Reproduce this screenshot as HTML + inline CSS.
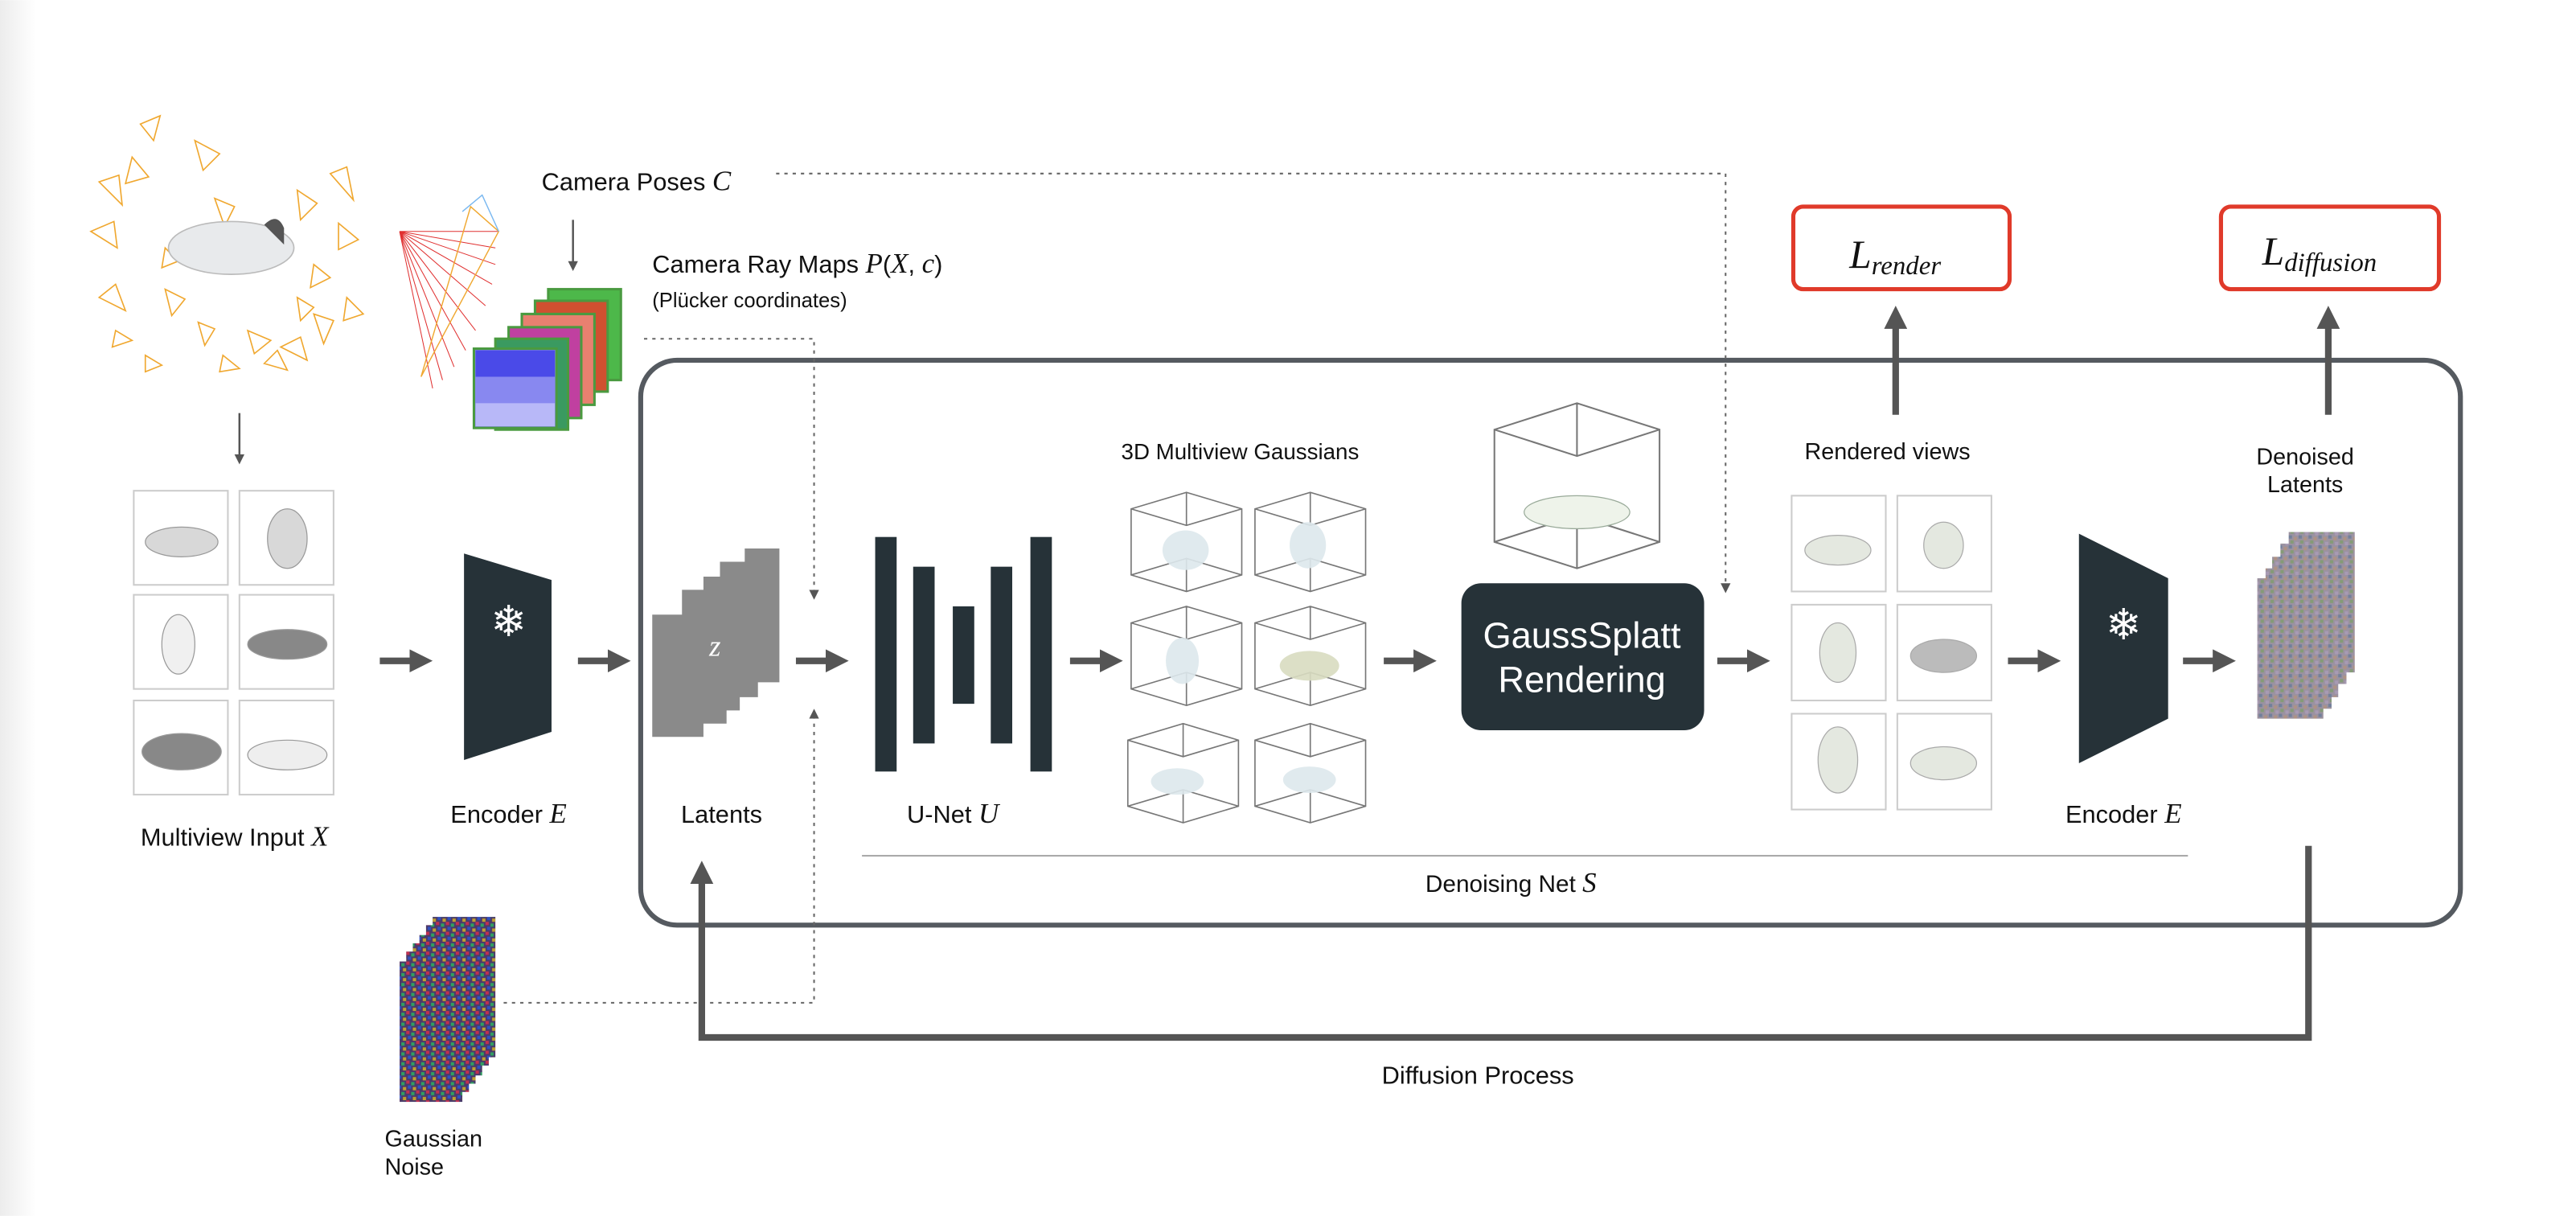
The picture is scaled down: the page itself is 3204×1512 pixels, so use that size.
<!DOCTYPE html>
<html><head><meta charset="utf-8"><style>
html,body{margin:0;padding:0;background:#fff;}
svg{display:block;}
text{font-family:"Liberation Sans",sans-serif;fill:#111;}
.m{font-family:"Liberation Serif",serif;font-style:italic;}
</style></head><body>
<svg width="3204" height="1512" viewBox="0 0 1560 736" xmlns="http://www.w3.org/2000/svg">
<defs>
<linearGradient id="lg" x1="0" x2="1"><stop offset="0" stop-color="#ececec"/><stop offset="1" stop-color="#fff"/></linearGradient>
<marker id="sa" markerWidth="6" markerHeight="6" refX="3" refY="3" orient="auto" markerUnits="userSpaceOnUse"><path d="M0,0 L6,3 L0,6 z" fill="#555"/></marker>
<marker id="ta" markerWidth="14" markerHeight="14" refX="7" refY="7" orient="auto" markerUnits="userSpaceOnUse"><path d="M0,0 L14,7 L0,14 z" fill="#555"/></marker>
<pattern id="noise" width="6" height="6" patternUnits="userSpaceOnUse">
<rect width="6" height="6" fill="#8a7f90"/><rect x="0" y="0" width="2" height="2" fill="#5a6a8a"/><rect x="3" y="1" width="2" height="2" fill="#a08070"/><rect x="1" y="3" width="2" height="2" fill="#708a60"/><rect x="4" y="4" width="2" height="2" fill="#9a8aa8"/></pattern>
<pattern id="noise2" width="6" height="6" patternUnits="userSpaceOnUse">
<rect width="6" height="6" fill="#4a3a6a"/><rect x="0" y="0" width="2" height="2" fill="#c03050"/><rect x="3" y="1" width="2" height="2" fill="#30a060"/><rect x="1" y="3" width="2" height="2" fill="#3050c0"/><rect x="4" y="4" width="2" height="2" fill="#c0a030"/></pattern>
<g id="cube" fill="none" stroke="#777" stroke-width="0.8">
<path d="M0,10 L33.5,0 L67,10 L67,50 L33.5,60 L0,50 z M0,10 L33.5,20 L67,10 M33.5,0 L33.5,20 M0,50 L33.5,40 L67,50 M33.5,40 L33.5,60"/>
</g>
</defs>
<rect x="0" y="0" width="22" height="736" fill="url(#lg)"/>

<rect x="388" y="218" width="1102" height="342" rx="22" fill="none" stroke="#555a60" stroke-width="3"/>

<g fill="none" stroke="#f0a830" stroke-width="0.8">
<path d="M85,75 l12,-5 l-4,15z M118,85 l15,8 l-10,10z M60,110 l12,-4 l2,18z M80,95 l10,12 l-14,4z M55,140 l14,-6 l2,16z M130,120 l12,5 l-6,12z M140,145 l10,6 l-8,8z M180,115 l12,8 l-10,10z M200,105 l10,-4 l4,20z M205,135 l12,10 l-12,6z M190,160 l10,8 l-12,6z M60,180 l10,-8 l6,16z M70,200 l10,6 l-12,4z M100,175 l12,6 l-8,10z M120,195 l10,4 l-6,10z M150,200 l14,6 l-10,8z M170,210 l12,-6 l4,14z M190,190 l12,4 l-6,14z M210,180 l10,10 l-12,4z M88,215 l10,6 l-10,4z M135,215 l10,8 l-12,2z M160,220 l8,-8 l6,12z M100,150 l8,8 l-10,4z M180,180 l10,6 l-8,8z"/>
</g>
<ellipse cx="140" cy="150" rx="38" ry="16" fill="#e8eaec" stroke="#bbb" stroke-width="0.8"/>
<path d="M160,136 q8,-8 12,2 l0,10z" fill="#555"/>
<g stroke="#e03030" stroke-width="0.5">
<path d="M242,140 L300,150 M242,140 L300,160 M242,140 L298,172 M242,140 L294,185 M242,140 L288,200 M242,140 L282,212 M242,140 L275,222 M242,140 L268,230 M242,140 L262,235 M242,140 L302,140"/>
</g>
<path d="M255,228 L285,125 L302,140 z" fill="none" stroke="#f0a830" stroke-width="0.7"/>
<path d="M280,128 L292,118 L302,140" fill="none" stroke="#7ab8f0" stroke-width="0.7"/>

<text x="328" y="115" font-size="15">Camera Poses <tspan class="m" font-size="17">C</tspan></text>
<line x1="347" y1="133" x2="347" y2="161" stroke="#555" stroke-width="1.2" marker-end="url(#sa)"/>
<polyline points="470,105 1045,105 1045,356" fill="none" stroke="#666" stroke-width="1" stroke-dasharray="2,3" marker-end="url(#sa)"/>
<text x="395" y="165" font-size="15">Camera Ray Maps <tspan class="m" font-size="17">P</tspan>(<tspan class="m" font-size="17">X</tspan>, <tspan class="m" font-size="17">c</tspan>)</text>
<text x="395" y="186" font-size="12.5" fill="#333">(Plücker coordinates)</text>

<g stroke="#4a9a40" stroke-width="1.5">
<rect x="332" y="175" width="44" height="55" fill="#4db84a"/>
<rect x="324" y="182" width="44" height="55" fill="#d05030"/>
<rect x="316" y="190" width="44" height="55" fill="#e88070"/>
<rect x="308" y="198" width="44" height="55" fill="#c040a0"/>
<rect x="300" y="205" width="44" height="55" fill="#3a9a60"/>
<rect x="287" y="211" width="50" height="48" fill="#8888f0"/>
</g>
<rect x="288" y="212" width="48" height="16" fill="#4a4ae8"/>
<rect x="288" y="244" width="48" height="14" fill="#b8b8f8"/>

<polyline points="390,205 493,205 493,360" fill="none" stroke="#666" stroke-width="1" stroke-dasharray="2,3" marker-end="url(#sa)"/>
<polyline points="305,607 493,607 493,432" fill="none" stroke="#666" stroke-width="1" stroke-dasharray="2,3" marker-end="url(#sa)"/>

<line x1="145" y1="250" x2="145" y2="278" stroke="#555" stroke-width="1.2" marker-end="url(#sa)"/>

<g fill="#fff" stroke="#ccc" stroke-width="1">
<rect x="81" y="297" width="57" height="57"/><rect x="145" y="297" width="57" height="57"/>
<rect x="81" y="360" width="57" height="57"/><rect x="145" y="360" width="57" height="57"/>
<rect x="81" y="424" width="57" height="57"/><rect x="145" y="424" width="57" height="57"/>
</g>
<g fill="#d8d8d8" stroke="#999" stroke-width="0.6">
<ellipse cx="110" cy="328" rx="22" ry="9"/><ellipse cx="174" cy="326" rx="12" ry="18"/>
<ellipse cx="108" cy="390" rx="10" ry="18" fill="#f0f0f0"/><ellipse cx="174" cy="390" rx="24" ry="9" fill="#888"/>
<ellipse cx="110" cy="455" rx="24" ry="11" fill="#888"/><ellipse cx="174" cy="457" rx="24" ry="9" fill="#eee"/>
</g>
<text x="142" y="512" font-size="15" text-anchor="middle">Multiview Input <tspan class="m" font-size="17">X</tspan></text>

<g stroke="#555" stroke-width="4" fill="none">
<line x1="230" y1="400" x2="255" y2="400" marker-end="url(#ta)"/>
<line x1="350" y1="400" x2="375" y2="400" marker-end="url(#ta)"/>
<line x1="482" y1="400" x2="507" y2="400" marker-end="url(#ta)"/>
<line x1="648" y1="400" x2="673" y2="400" marker-end="url(#ta)"/>
<line x1="838" y1="400" x2="863" y2="400" marker-end="url(#ta)"/>
<line x1="1040" y1="400" x2="1065" y2="400" marker-end="url(#ta)"/>
<line x1="1216" y1="400" x2="1241" y2="400" marker-end="url(#ta)"/>
<line x1="1322" y1="400" x2="1347" y2="400" marker-end="url(#ta)"/>
<line x1="1148" y1="251" x2="1148" y2="192" marker-end="url(#ta)"/>
<line x1="1410" y1="251" x2="1410" y2="192" marker-end="url(#ta)"/>
<polyline points="1398,512 1398,628 425,628 425,528" marker-end="url(#ta)"/>
</g>

<path d="M281,335 L334,351 L334,443 L281,460 z" fill="#263238"/>
<text x="308" y="385" font-size="26" text-anchor="middle" style="fill:#fff">❄</text>
<text x="308" y="498" font-size="15" text-anchor="middle">Encoder <tspan class="m" font-size="17">E</tspan></text>

<path d="M395,372 L413,372 L413,357 L426,357 L426,349 L436,349 L436,340 L451,340 L451,332 L472,332 L472,413 L459,413 L459,422 L448,422 L448,430 L440,430 L440,438 L426,438 L426,446 L395,446 z" fill="#8a8a8a"/>
<text x="433" y="397" class="m" font-size="18" fill="#fff" style="fill:#fff" text-anchor="middle">z</text>
<text x="437" y="498" font-size="15" text-anchor="middle">Latents</text>

<g fill="#263238">
<rect x="530" y="325" width="13" height="142"/><rect x="553" y="343" width="13" height="107"/>
<rect x="577" y="367" width="13" height="59"/><rect x="600" y="343" width="13" height="107"/>
<rect x="624" y="325" width="13" height="142"/>
</g>
<text x="577" y="498" font-size="15" text-anchor="middle">U-Net <tspan class="m" font-size="17">U</tspan></text>

<text x="751" y="278" font-size="13.5" text-anchor="middle">3D Multiview Gaussians</text>
<use href="#cube" x="685" y="298"/><use href="#cube" x="760" y="298"/>
<use href="#cube" x="685" y="367"/><use href="#cube" x="760" y="367"/>
<use href="#cube" x="683" y="438"/><use href="#cube" x="760" y="438"/>
<g fill="#dde8ec" opacity="0.9">
<ellipse cx="718" cy="333" rx="14" ry="12"/><ellipse cx="792" cy="330" rx="11" ry="14"/>
<ellipse cx="716" cy="400" rx="10" ry="14"/><ellipse cx="793" cy="403" rx="18" ry="9" fill="#d8dcc0"/>
<ellipse cx="713" cy="473" rx="16" ry="8"/><ellipse cx="793" cy="472" rx="16" ry="8"/>
</g>

<g fill="none" stroke="#777" stroke-width="1">
<path d="M905,260 L955,244 L1005,260 L1005,328 L955,344 L905,328 z M905,260 L955,276 L1005,260 M955,244 L955,276 M905,328 L955,312 L1005,328 M955,312 L955,344"/>
</g>
<ellipse cx="955" cy="310" rx="32" ry="10" fill="#eef3ea" stroke="#9a9" stroke-width="0.6"/>
<rect x="885" y="353" width="147" height="89" rx="12" fill="#263238"/>
<text x="958" y="392" font-size="22" text-anchor="middle" style="fill:#fff">GaussSplatt</text>
<text x="958" y="419" font-size="22" text-anchor="middle" style="fill:#fff">Rendering</text>

<text x="1143" y="278" font-size="14" text-anchor="middle">Rendered views</text>
<g fill="#fff" stroke="#ccc" stroke-width="1">
<rect x="1085" y="300" width="57" height="58"/><rect x="1149" y="300" width="57" height="58"/>
<rect x="1085" y="366" width="57" height="58"/><rect x="1149" y="366" width="57" height="58"/>
<rect x="1085" y="432" width="57" height="58"/><rect x="1149" y="432" width="57" height="58"/>
</g>
<g fill="#e4e8e0" stroke="#aaa" stroke-width="0.6">
<ellipse cx="1113" cy="333" rx="20" ry="9"/><ellipse cx="1177" cy="330" rx="12" ry="14"/>
<ellipse cx="1113" cy="395" rx="11" ry="18"/><ellipse cx="1177" cy="397" rx="20" ry="10" fill="#bbb"/>
<ellipse cx="1113" cy="460" rx="12" ry="20"/><ellipse cx="1177" cy="462" rx="20" ry="10"/>
</g>

<rect x="1086" y="125" width="131" height="50" rx="6" fill="#fff" stroke="#e03a2a" stroke-width="2.5"/>
<text x="1120" y="162" class="m" font-size="24">L<tspan font-size="16" dy="4">render</tspan></text>
<rect x="1345" y="125" width="132" height="50" rx="6" fill="#fff" stroke="#e03a2a" stroke-width="2.5"/>
<text x="1370" y="160" class="m" font-size="24">L<tspan font-size="16" dy="4">diffusion</tspan></text>

<path d="M1259,323 L1313,350 L1313,435 L1259,462 z" fill="#263238"/>
<text x="1286" y="387" font-size="26" text-anchor="middle" style="fill:#fff">❄</text>
<text x="1286" y="498" font-size="15" text-anchor="middle">Encoder <tspan class="m" font-size="17">E</tspan></text>

<text x="1396" y="281" font-size="14" text-anchor="middle">Denoised</text>
<text x="1396" y="298" font-size="14" text-anchor="middle">Latents</text>
<g fill="url(#noise)" opacity="0.85">
<rect x="1386" y="322" width="40" height="85"/><rect x="1381" y="329" width="40" height="85"/>
<rect x="1376" y="337" width="40" height="85"/><rect x="1372" y="344" width="40" height="85"/>
<rect x="1367" y="350" width="40" height="85"/>
</g>

<line x1="522" y1="518" x2="1325" y2="518" stroke="#aaa" stroke-width="1"/>
<text x="915" y="540" font-size="14.5" text-anchor="middle" fill="#333">Denoising Net <tspan class="m" font-size="17">S</tspan></text>
<text x="895" y="656" font-size="15" text-anchor="middle">Diffusion Process</text>

<g fill="url(#noise2)">
<rect x="262" y="555" width="38" height="85"/><rect x="258" y="560" width="38" height="85"/>
<rect x="254" y="566" width="38" height="85"/><rect x="250" y="571" width="38" height="85"/>
<rect x="246" y="576" width="38" height="85"/><rect x="242" y="582" width="38" height="85"/>
</g>
<text x="233" y="694" font-size="14">Gaussian</text>
<text x="233" y="711" font-size="14">Noise</text>
</svg>
</body></html>
